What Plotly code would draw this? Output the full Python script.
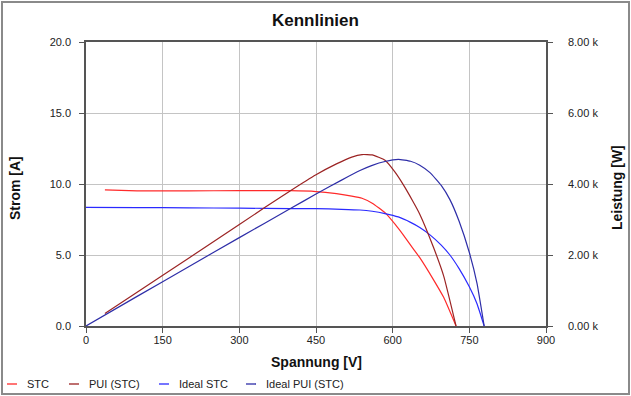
import plotly.graph_objects as go

# ---- data ----
v_stc = [37, 100, 200, 300, 400, 450, 490, 520, 540, 560, 585, 605, 621, 640, 653, 680, 700, 724]
i_stc = [9.58, 9.52, 9.51, 9.54, 9.53, 9.47, 9.32, 9.15, 9.00, 8.65, 7.98, 7.15, 6.40, 5.45, 4.81, 3.25, 2.00, 0.0]
p_stc = [354, 952, 1902, 2862, 3812, 4262, 4567, 4758, 4830, 4820, 4668, 4326, 3974, 3500, 3150, 2210, 1400, 0]

v_ideal = [0, 100, 200, 300, 400, 450, 500, 536, 560, 585, 611, 635, 653, 673, 695, 712, 730, 750, 765, 779]
i_ideal = [8.36, 8.34, 8.32, 8.30, 8.27, 8.26, 8.22, 8.17, 8.08, 7.92, 7.68, 7.30, 6.94, 6.42, 5.70, 5.00, 4.04, 2.76, 1.57, 0.0]
p_ideal = [0, 834, 1664, 2490, 3308, 3717, 4110, 4379, 4525, 4633, 4692, 4640, 4530, 4320, 3960, 3560, 2950, 2070, 1200, 0]

x_ticks = [0, 150, 300, 450, 600, 750, 900]
y_ticks = [0, 5, 10, 15, 20]
y2_ticks = [0, 2000, 4000, 6000, 8000]
y2_labels = ["0.00 k", "2.00 k", "4.00 k", "6.00 k", "8.00 k"]

series_names = ["STC", "PUI (STC)", "Ideal STC", "Ideal PUI (STC)"]
series_colors = ["#ff2a2a", "#9b2323", "#2a2aff", "#2e2ea8"]

FONT = "Liberation Sans, Arial, sans-serif"
W, H = 631, 396
L, R, T, B = 86, 85, 42, 70
PW, PH = W - L - R, H - T - B


def px_x(px):
    return (px - L) / PW


def px_y(py):
    return (H - B - py) / PH


line_kw = dict(width=1.2, shape="spline", smoothing=0.4)
fig = go.Figure()
fig.add_trace(go.Scatter(x=v_stc, y=i_stc, mode="lines", name=series_names[0],
                         line=dict(color=series_colors[0], **line_kw), yaxis="y"))
fig.add_trace(go.Scatter(x=v_stc, y=p_stc, mode="lines", name=series_names[1],
                         line=dict(color=series_colors[1], **line_kw), yaxis="y2"))
fig.add_trace(go.Scatter(x=v_ideal, y=i_ideal, mode="lines", name=series_names[2],
                         line=dict(color=series_colors[2], **line_kw), yaxis="y"))
fig.add_trace(go.Scatter(x=v_ideal, y=p_ideal, mode="lines", name=series_names[3],
                         line=dict(color=series_colors[3], **line_kw), yaxis="y2"))

axis_line = "#555555"
grid = "#c4c4c4"
tickfont = dict(family=FONT, size=11, color="#222222")

fig.update_layout(
    width=W, height=H,
    margin=dict(l=L, r=R, t=T, b=B, pad=0),
    paper_bgcolor="white", plot_bgcolor="white",
    showlegend=False,
    font=dict(family=FONT, size=11, color="#222222"),
    xaxis=dict(range=[0, 900], tickvals=x_ticks, ticktext=[str(v) for v in x_ticks],
               showgrid=True, gridcolor=grid, gridwidth=1,
               showline=True, linecolor=axis_line, linewidth=1.5, mirror=True,
               ticks="outside", ticklen=5, tickcolor=axis_line, tickwidth=1.2,
               ticklabelstandoff=-2,
               tickfont=tickfont, zeroline=False, fixedrange=True),
    yaxis=dict(range=[0, 20], tickvals=y_ticks, ticktext=[f"{v:.1f}" for v in y_ticks],
               showgrid=True, gridcolor=grid, gridwidth=1,
               showline=True, linecolor=axis_line, linewidth=1.5,
               ticks="outside", ticklen=5, tickcolor=axis_line, tickwidth=1.2,
               ticklabelstandoff=6,
               tickfont=tickfont, zeroline=False, fixedrange=True),
    yaxis2=dict(range=[0, 8000], tickvals=y2_ticks, ticktext=y2_labels,
                overlaying="y", side="right", showgrid=False,
                showline=True, linecolor=axis_line, linewidth=1.5,
                ticks="outside", ticklen=5, tickcolor=axis_line, tickwidth=1.2,
                ticklabelstandoff=13,
                tickfont=tickfont, zeroline=False, fixedrange=True),
)

annotations = [
    dict(text="<b>Kennlinien</b>", x=px_x(W / 2), y=px_y(20), font=dict(size=17, color="#111111")),
    dict(text="<b>Spannung [V]</b>", x=px_x(316), y=px_y(362), font=dict(size=14, color="#111111")),
    dict(text="<b>Strom [A]</b>", x=px_x(15), y=px_y(188), textangle=-90, font=dict(size=14, color="#111111")),
    dict(text="<b>Leistung [W]</b>", x=px_x(617), y=px_y(188), textangle=-90, font=dict(size=14, color="#111111")),
]
for a in annotations:
    a.update(xref="paper", yref="paper", showarrow=False, xanchor="center", yanchor="middle")
    a["font"]["family"] = FONT
    fig.add_annotation(**a)

# custom legend along the bottom
leg_line_x = [7, 69, 159, 246]
leg_y = 384
shapes = []
for name, color, lx in zip(series_names, series_colors, leg_line_x):
    shapes.append(dict(type="line", xref="paper", yref="paper",
                       x0=px_x(lx), x1=px_x(lx + 10), y0=px_y(leg_y), y1=px_y(leg_y),
                       line=dict(color=color, width=1.3)))
    fig.add_annotation(text=name, xref="paper", yref="paper", x=px_x(lx + 18), y=px_y(leg_y),
                       xanchor="left", yanchor="middle", showarrow=False,
                       font=dict(family=FONT, size=11, color="#222222"))

# outer frame of the picture
shapes.append(dict(type="rect", xref="paper", yref="paper", layer="above",
                   x0=px_x(2), x1=px_x(629), y0=px_y(394), y1=px_y(2),
                   line=dict(color="#8a8a8a", width=2), fillcolor="rgba(0,0,0,0)"))
fig.update_layout(shapes=shapes)

fig.write_html(
    "out.html",
    config={"displayModeBar": False},
    post_script="document.body.style.margin='0';document.body.style.padding='0';"
                "document.documentElement.style.overflow='hidden';",
)
